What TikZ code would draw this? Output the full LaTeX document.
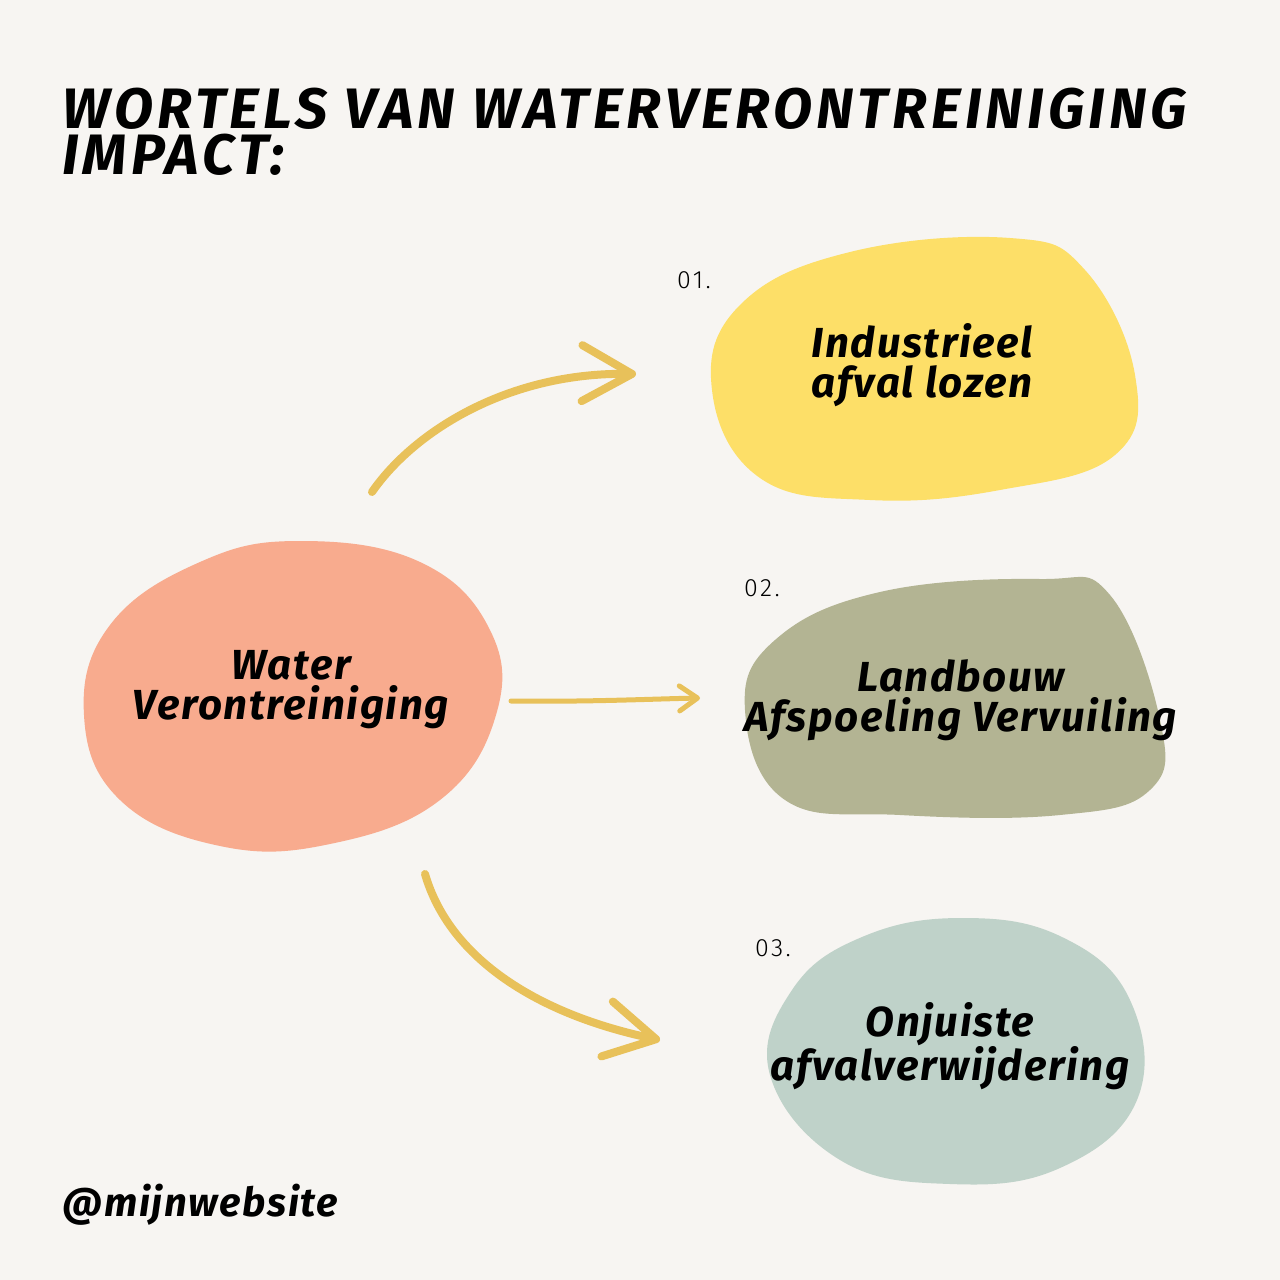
\documentclass[tikz,border=0pt]{standalone}
\usepackage{fontspec}
\setmainfont{Fira Sans}
\newfontfamily\numfont[LetterSpace=10]{Fira Sans Light}
\newfontfamily\titlefont[LetterSpace=7.5]{Fira Sans}
\newfontfamily\blobfont[LetterSpace=4]{Fira Sans}
\usetikzlibrary{arrows.meta}
\definecolor{bgc}{HTML}{F7F5F2}
\definecolor{yelc}{HTML}{FDDF68}
\definecolor{salc}{HTML}{F8AB8E}
\definecolor{olic}{HTML}{B3B493}
\definecolor{sagc}{HTML}{BFD2C9}
\definecolor{arrc}{HTML}{E8C15A}
\tikzset{
  blobtext/.style={align=center, font=\blobfont\bfseries\itshape\fontsize{42}{40}\selectfont, inner sep=0pt},
  numlabel/.style={font=\numfont\fontsize{25}{25}\selectfont, inner sep=0pt},
  titletext/.style={anchor=north west, align=left, inner sep=0pt, font=\titlefont\bfseries\itshape\fontsize{57}{46}\selectfont},
  bigarrow/.style={draw=arrc, line width=8pt, line cap=round, -{Straight Barb[length=50pt,width=56pt,round]}},
  smallarrow/.style={draw=arrc, line width=5pt, line cap=round, -{Straight Barb[length=18pt,width=25pt,round]}},
}
\begin{document}
\begin{tikzpicture}[x=1pt,y=-1pt]
\fill[bgc] (0,0) rectangle (1280,1280);
\useasboundingbox (0,0) rectangle (1280,1280);

% title
\node[titletext] (title) at (62,88) {WORTELS VAN WATERVERONTREINIGING\\IMPACT:};

% blobs
\fill[yelc] plot[smooth cycle, tension=0.7] coordinates {(712,390) (740,305) (850,252) (1010,238) (1085,270) (1135,375) (1115,455) (1000,490) (870,500) (760,478)};
\fill[salc] plot[smooth cycle, tension=0.7] coordinates {(84,715) (110,625) (200,562) (300,541) (420,562) (490,630) (496,715) (440,800) (330,844) (220,846) (120,800)};
\fill[olic] plot[smooth cycle, tension=0.7] coordinates {(745,710) (775,640) (880,592) (1040,579) (1110,595) (1160,720) (1150,790) (1060,815) (900,815) (785,800)};
\fill[sagc] plot[smooth cycle, tension=0.7] coordinates {(770,1075) (792,990) (862,937) (962,918) (1062,937) (1130,1000) (1137,1100) (1060,1168) (950,1184) (840,1160)};

% texts
\node[blobtext] (src) at (291,690) {Water\\Verontreiniging};
\node[blobtext] (b1) at (922,365) {Industrieel\\afval lozen};
\node[blobtext] (b2) at (961,700) {Landbouw\\Afspoeling Vervuiling};
\node[blobtext] (b3) at (950,1046) {Onjuiste\\afvalverwijdering};

\node[numlabel] (n1) at (694,280) {01.};
\node[numlabel] (n2) at (762,588) {02.};
\node[numlabel] (n3) at (773,948) {03.};

\node[anchor=base west, inner sep=0pt, font=\blobfont\bfseries\itshape\fontsize{40}{40}\selectfont] (web) at (62,1216) {@mijnwebsite};

% arrow endpoints
\coordinate (a1s) at (372,492);
\coordinate (a1e) at (636,374);
\coordinate (a2s) at (511,701);
\coordinate (a2e) at (700,698);
\coordinate (a3s) at (425,874);
\coordinate (a3e) at (660,1040);

\draw[bigarrow] (a1s) .. controls (415,430) and (510,372) .. (a1e);
\draw[smallarrow] (a2s) .. controls (590,702) and (650,699) .. (a2e);
\draw[bigarrow] (a3s) .. controls (450,960) and (540,1015) .. (a3e);
\end{tikzpicture}
\end{document}
